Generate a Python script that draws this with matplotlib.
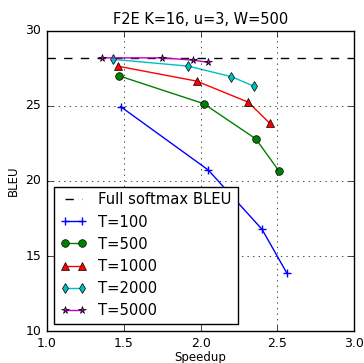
import matplotlib
matplotlib.use('Agg')
import matplotlib.pyplot as plt

plt.style.use('classic')

# data
full_softmax_bleu = 28.2

t100_speedup = [1.48, 2.05, 2.40, 2.56]
t100_bleu = [24.95, 20.73, 16.78, 13.89]

t500_speedup = [1.47, 2.02, 2.36, 2.51]
t500_bleu = [27.0, 25.15, 22.8, 20.67]

t1000_speedup = [1.46, 1.975, 2.31, 2.45]
t1000_bleu = [27.65, 26.65, 25.25, 23.85]

t2000_speedup = [1.43, 1.92, 2.20, 2.35]
t2000_bleu = [28.1, 27.65, 26.95, 26.3]

t5000_speedup = [1.36, 1.75, 1.95, 2.05]
t5000_bleu = [28.2, 28.2, 28.05, 27.9]

fig = plt.figure(figsize=(3.64, 3.63), dpi=100, facecolor='white')
ax = fig.add_axes([0.129, 0.088, 0.844, 0.827])

ax.axhline(full_softmax_bleu, color='k', linestyle='--', label='Full softmax BLEU')
ax.plot(t100_speedup, t100_bleu, 'b-+', markersize=6, mew=1, label='T=100')
ax.plot(t500_speedup, t500_bleu, 'go-', markersize=5.5, label='T=500')
ax.plot(t1000_speedup, t1000_bleu, 'r^-', markersize=5.5, label='T=1000')
ax.plot(t2000_speedup, t2000_bleu, 'cd-', markersize=5.5, label='T=2000')
ax.plot(t5000_speedup, t5000_bleu, 'm*-', markersize=5.5, label='T=5000')

ax.set_xlim(1.0, 3.0)
ax.set_ylim(10, 30)
ax.set_xticks([1.0, 1.5, 2.0, 2.5, 3.0])
ax.set_yticks([10, 15, 20, 25, 30])
ax.tick_params(labelsize=9)
ax.grid(True)
ax.set_xlabel('Speedup', fontsize=8.5, labelpad=1)
ax.set_ylabel('BLEU', fontsize=8.5, labelpad=4)
ax.set_title('F2E K=16, u=3, W=500', fontsize=10.5)

leg = ax.legend(loc='lower left', fontsize=10.6, numpoints=2,
                labelspacing=0.48, handlelength=1.8, borderaxespad=0.5)

fig.savefig('out.png', dpi=100, facecolor='white')
